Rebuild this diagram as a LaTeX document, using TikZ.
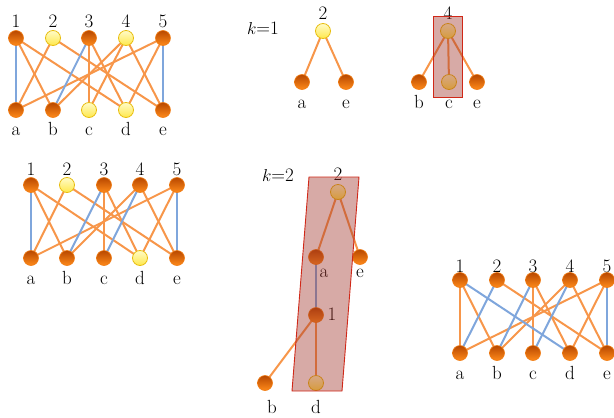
\documentclass[tikz,border=0pt]{standalone}
\usetikzlibrary{backgrounds}
\definecolor{edgeorange}{HTML}{F7964A}
\definecolor{edgeblue}{HTML}{7FA6DC}
\definecolor{balldark}{HTML}{B84800}
\definecolor{balllight}{HTML}{FF8A1A}
\definecolor{ballrim}{HTML}{F07A10}
\definecolor{freelight}{HTML}{FFFBC8}
\definecolor{freedark}{HTML}{FFE84A}
\definecolor{freerim}{HTML}{E8BE10}
\definecolor{pathfill}{HTML}{A0342A}
\definecolor{pathred}{HTML}{D02818}
\tikzset{
  onode/.style={
    circle, minimum size=15pt, inner sep=0pt, draw=ballrim,
    line width=0.6pt, top color=balldark, bottom color=balllight
  },
  ynode/.style={
    circle, minimum size=15pt, inner sep=0pt, draw=freerim,
    line width=0.8pt, top color=freelight, bottom color=freedark
  },
  lab/.style={font=\fontsize{19}{21}\selectfont, anchor=base, inner sep=0pt},
  oedge/.style={edgeorange, line width=2pt},
  bedge/.style={edgeblue, line width=2pt},
  pathbox/.style={
    draw=pathred, line width=0.9pt, fill=pathfill, fill opacity=0.42
  }
}
\begin{document}
\begin{tikzpicture}[x=1pt, y=-1pt]
        \useasboundingbox (0,0) rectangle (614,418);
        % Grafo A
        \foreach \i/\x/\s in {1/16/onode,2/53/ynode,3/89/onode,4/126/ynode,5/163/onode}{
          \node[\s] (A\i) at (\x,38) {};
          \node[lab] (At\i) at (\x,27) {\i};
        }
        \foreach \j/\x/\s in {a/16/onode,b/53/onode,c/89/ynode,d/126/ynode,e/163/onode}{
          \node[\s] (A\j) at (\x,110) {};
          \node[lab] (At\j) at (\x,135) {\j};
        }
        \begin{scope}[on background layer]
          \foreach \u/\v in {1/b,1/d,2/a,2/e,3/c,3/d,4/b,4/c,4/e,5/a,5/d}
            \draw[oedge] (A\u.center) -- (A\v.center);
          \foreach \u/\v in {1/a,3/b,5/e}
            \draw[bedge] (A\u.center) -- (A\v.center);
        \end{scope}
        % Grafo B
        \foreach \i/\x/\s in {1/31/onode,2/67/ynode,3/104/onode,4/140/onode,5/177/onode}{
          \node[\s] (B\i) at (\x,185) {};
          \node[lab] (Bt\i) at (\x,175) {\i};
        }
        \foreach \j/\x/\s in {a/31/onode,b/67/onode,c/104/onode,d/140/ynode,e/177/onode}{
          \node[\s] (B\j) at (\x,258) {};
          \node[lab] (Bt\j) at (\x,284) {\j};
        }
        \begin{scope}[on background layer]
          \foreach \u/\v in {1/b,1/d,2/a,2/e,3/c,3/d,4/b,4/e,5/a,5/d}
            \draw[oedge] (B\u.center) -- (B\v.center);
          \foreach \u/\v in {1/a,3/b,4/c,5/e}
            \draw[bedge] (B\u.center) -- (B\v.center);
        \end{scope}
        % Grafo C
        \foreach \i/\x in {1/460,2/497,3/533,4/570,5/607}{
          \node[onode] (C\i) at (\x,280) {};
          \node[lab] (Ct\i) at (\x,272) {\i};
        }
        \foreach \j/\x in {a/460,b/497,c/533,d/570,e/607}{
          \node[onode] (C\j) at (\x,353) {};
          \node[lab] (Ct\j) at (\x,379) {\j};
        }
        \begin{scope}[on background layer]
          \foreach \u/\v in {1/a,1/b,2/e,3/c,3/d,4/b,4/e,5/a,5/d}
            \draw[oedge] (C\u.center) -- (C\v.center);
          \foreach \u/\v in {1/d,2/a,3/b,4/c,5/e}
            \draw[bedge] (C\u.center) -- (C\v.center);
        \end{scope}
        % k=1
        \node[lab] (kone) at (263,34) {$k$=1};
        \node[ynode] (P2) at (323,31) {};
        \node[lab] (Pt2) at (323,19) {2};
        \node[onode] (Pa) at (302,82) {};
        \node[onode] (Pe) at (346,82) {};
        \node[lab] (Pta) at (302,108) {a};
        \node[lab] (Pte) at (346,108) {e};
        \node[ynode] (Q4) at (448,31) {};
        \node[lab] (Qt4) at (448,19) {4};
        \node[onode] (Qb) at (419,82) {};
        \node[ynode] (Qc) at (449,82) {};
        \node[onode] (Qe) at (477,82) {};
        \node[lab] (Qtb) at (419,108) {b};
        \node[lab] (Qtc) at (449,108) {c};
        \node[lab] (Qte) at (477,108) {e};
        \begin{scope}[on background layer]
          \draw[oedge] (P2.center) -- (Pa.center);
          \draw[oedge] (P2.center) -- (Pe.center);
          \draw[oedge] (Q4.center) -- (Qb.center);
          \draw[oedge] (Q4.center) -- (Qc.center);
          \draw[oedge] (Q4.center) -- (Qe.center);
        \end{scope}
        \draw[pathbox] (433,16) rectangle (462,97);
        % k=2
        \node[lab] (ktwo) at (278,181) {$k$=2};
        \node[ynode] (R2) at (338,192) {};
        \node[lab] (Rt2) at (338,180) {2};
        \node[onode] (Ra) at (316,257) {};
        \node[onode] (Re) at (360,257) {};
        \node[lab] (Rta) at (324,277) {a};
        \node[lab] (Rte) at (360,277) {e};
        \node[onode] (R1) at (316,315) {};
        \node[lab] (Rt1) at (332,320) {1};
        \node[onode] (Rb) at (265,383) {};
        \node[ynode] (Rd) at (316,383) {};
        \node[lab] (Rtb) at (272,413) {b};
        \node[lab] (Rtd) at (316,413) {d};
        \begin{scope}[on background layer]
          \draw[oedge] (R2.center) -- (Ra.center);
          \draw[oedge] (R2.center) -- (Re.center);
          \draw[bedge] (Ra.center) -- (R1.center);
          \draw[oedge] (R1.center) -- (Rb.center);
          \draw[oedge] (R1.center) -- (Rd.center);
        \end{scope}
        \draw[pathbox] (309,177) -- (359,177) -- (342,391) -- (292,391) -- cycle;
      \end{tikzpicture}
\end{document}
